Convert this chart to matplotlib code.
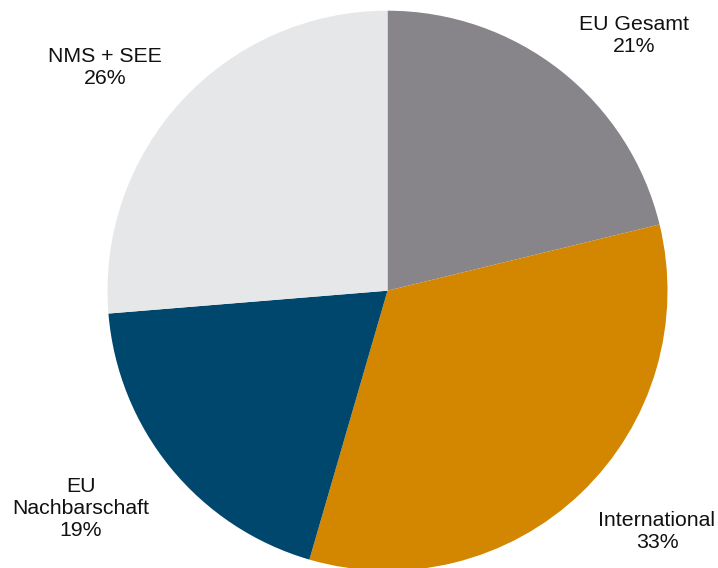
import matplotlib
matplotlib.use("Agg")
import matplotlib.pyplot as plt

plt.rcParams['font.family'] = ['Liberation Sans', 'DejaVu Sans']

categories = ["EU Gesamt", "International", "EU\nNachbarschaft", "NMS + SEE"]
shares = [21.2, 33.3, 19.2, 26.3]
colors = ["#878589", "#D38600", "#00476E", "#E6E7E8"]

W, H = 718, 568
fig = plt.figure(figsize=(W / 100, H / 100), dpi=100)
ax = fig.add_axes([0, 0, 1, 1])

cx, cy, r = 387.5, H - 290.7, 280
ax.pie(shares, colors=colors, startangle=90, counterclock=False,
       center=(cx, cy), radius=r, frame=True,
       wedgeprops=dict(linewidth=0))
ax.set_xlim(0, W)
ax.set_ylim(0, H)
ax.set_aspect('equal')
ax.axis('off')

# label anchor points (pixel coords from top-left, centre of text block)
label_pos = [(634, 35), (657, 532), (81, 509), (105, 67)]
for name, val, (lx, ly) in zip(categories, shares, label_pos):
    ax.text(lx, H - ly, f"{name}\n{round(val)}%", ha='center', va='center',
            fontsize=15.3, linespacing=1.2, color='#111111')

fig.savefig("out.png", dpi=100)
